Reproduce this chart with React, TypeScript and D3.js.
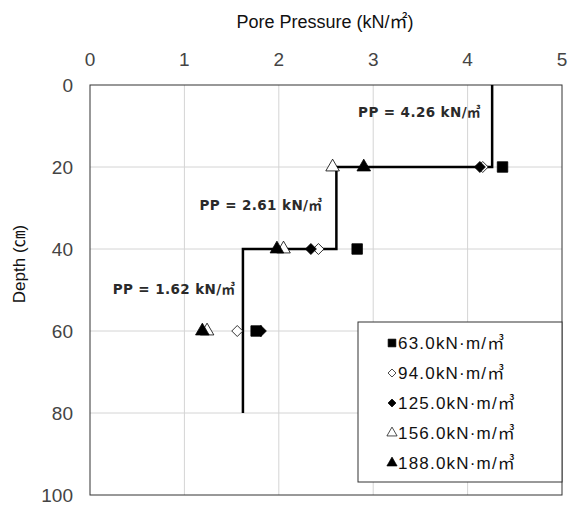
import React, { useEffect, useRef } from 'react';
import * as d3 from 'd3';

// depth (cm) of measurement points
const depths = [20, 40, 60];
// pore pressure (kN/m2) per series
const s63 = [4.37, 2.83, 1.76];
const s94 = [4.16, 2.42, 1.56];
const s125 = [4.13, 2.34, 1.81];
const s156 = [2.57, 2.05, 1.24];
const s188 = [2.9, 1.98, 1.19];

const seriesNames = ['63.0kN·m/㎥', '94.0kN·m/㎥', '125.0kN·m/㎥', '156.0kN·m/㎥', '188.0kN·m/㎥'];

// step line of computed pore pressure
const ppValues = [4.26, 2.61, 1.62];
const ppDepths = [0, 20, 40, 80];
const ppLabels = ['PP = 4.26 kN/㎥', 'PP = 2.61 kN/㎥', 'PP = 1.62 kN/㎥'];
const ppLabelPos = [[2.84, 7.8], [1.16, 30.5], [0.24, 51]];

const xTicks = [0, 1, 2, 3, 4, 5];
const yTicks = [0, 20, 40, 60, 80, 100];

const FONT = '"Liberation Sans Narrow", "Liberation Sans", "Noto Sans CJK KR", sans-serif';
const LFONT = '"Liberation Sans", "Noto Sans CJK KR", sans-serif';

// diamond as a square turned 45deg (wider than d3.symbolDiamond)
const diamond = (s: number) => `M0,${-s}L${s},0L0,${s}L${-s},0Z`;

const App = () => {
  const svgRef = useRef<SVGSVGElement>(null);

  useEffect(() => {
    const svg = d3.select(svgRef.current);
    svg.selectAll('*').remove();

    const left = 90, right = 562, top = 85, bottom = 495;
    const x = d3.scaleLinear().domain([0, 5]).range([left, right]);
    const y = d3.scaleLinear().domain([0, 100]).range([top, bottom]);

    svg.append('rect').attr('width', 569).attr('height', 507).attr('fill', '#fff');

    // grid
    svg.append('g').selectAll('line.v')
      .data(xTicks.slice(1, -1)).enter().append('line')
      .attr('x1', d => x(d)).attr('x2', d => x(d))
      .attr('y1', top).attr('y2', bottom)
      .attr('stroke', '#d4d4d4').attr('stroke-width', 1);
    svg.append('g').selectAll('line.h')
      .data(yTicks.slice(1, -1)).enter().append('line')
      .attr('x1', left).attr('x2', right)
      .attr('y1', d => y(d)).attr('y2', d => y(d))
      .attr('stroke', '#d4d4d4').attr('stroke-width', 1);

    svg.append('rect')
      .attr('x', left).attr('y', top)
      .attr('width', right - left).attr('height', bottom - top)
      .attr('fill', 'none').attr('stroke', '#333').attr('stroke-width', 1);

    // tick labels
    svg.append('g').selectAll('text')
      .data(xTicks).enter().append('text')
      .attr('x', d => x(d)).attr('y', 66)
      .attr('text-anchor', 'middle')
      .style('font-family', FONT).style('font-size', '19px').style('fill', '#444')
      .text(d => d);
    svg.append('g').selectAll('text')
      .data(yTicks).enter().append('text')
      .attr('x', 73).attr('y', d => y(d) + 7)
      .attr('text-anchor', 'end')
      .style('font-family', FONT).style('font-size', '19px').style('fill', '#444')
      .text(d => d);

    svg.append('text')
      .attr('x', 325).attr('y', 28)
      .attr('text-anchor', 'middle')
      .style('font-family', LFONT).style('font-size', '18px').style('fill', '#111')
      .text('Pore Pressure (kN/㎡)');
    svg.append('text')
      .attr('transform', 'translate(25,264) rotate(-90)')
      .attr('text-anchor', 'middle')
      .style('font-family', LFONT).style('font-size', '17px').style('fill', '#111')
      .text('Depth (㎝)');

    // step line
    const pts: [number, number][] = [];
    ppValues.forEach((v, i) => {
      pts.push([v, ppDepths[i]]);
      pts.push([v, ppDepths[i + 1]]);
    });
    const line = d3.line<[number, number]>().x(d => x(d[0])).y(d => y(d[1]));
    svg.append('path').attr('d', line(pts))
      .attr('fill', 'none').attr('stroke', '#000').attr('stroke-width', 2.5);

    // annotations
    svg.append('g').selectAll('text')
      .data(ppLabels).enter().append('text')
      .attr('x', (d, i) => x(ppLabelPos[i][0]))
      .attr('y', (d, i) => y(ppLabelPos[i][1]))
      .style('font-family', '"DejaVu Sans", "Noto Sans CJK KR", sans-serif').style('font-size', '13.5px')
      .style('font-weight', 'bold').style('fill', '#2a2a2a')
      .style('letter-spacing', '0.4px')
      .text(d => d);

    const series = [s63, s94, s125, s156, s188];
    const shapes = [
      { d: d3.symbol().type(d3.symbolSquare).size(110)(), ld: d3.symbol().type(d3.symbolSquare).size(60)(), fill: '#000' },
      { d: diamond(5.5), ld: diamond(4), fill: '#fff' },
      { d: diamond(5.5), ld: diamond(4), fill: '#000' },
      { d: d3.symbol().type(d3.symbolTriangle).size(80)(), ld: d3.symbol().type(d3.symbolTriangle).size(45)(), fill: '#fff' },
      { d: d3.symbol().type(d3.symbolTriangle).size(80)(), ld: d3.symbol().type(d3.symbolTriangle).size(45)(), fill: '#000' },
    ];

    series.forEach((vals, si) => {
      const sh = shapes[si];
      svg.append('g').selectAll('path')
        .data(vals).enter().append('path')
        .attr('transform', (d, i) => `translate(${x(d)},${y(depths[i])})`)
        .attr('d', sh.d)
        .attr('fill', sh.fill).attr('stroke', '#000').attr('stroke-width', 0.8);
    });

    // legend
    const lg = svg.append('g');
    lg.append('rect')
      .attr('x', 358).attr('y', 322).attr('width', 204).attr('height', 160)
      .attr('fill', '#fff').attr('stroke', '#333').attr('stroke-width', 1);
    seriesNames.forEach((name, i) => {
      const cy = 343 + i * 30;
      const sh = shapes[i];
      lg.append('path')
        .attr('transform', `translate(392,${cy})`)
        .attr('d', sh.ld)
        .attr('fill', sh.fill).attr('stroke', '#000').attr('stroke-width', 0.7);
      lg.append('text')
        .attr('x', 398).attr('y', cy + 6)
        .style('font-family', LFONT).style('font-size', '17px').style('fill', '#111')
        .style('letter-spacing', '1.2px')
        .text(name);
    });
  }, []);

  return (
    <svg ref={svgRef} width={569} height={507} style={{ position: 'absolute', left: 0, top: 0 }} />
  );
};

export default App;
